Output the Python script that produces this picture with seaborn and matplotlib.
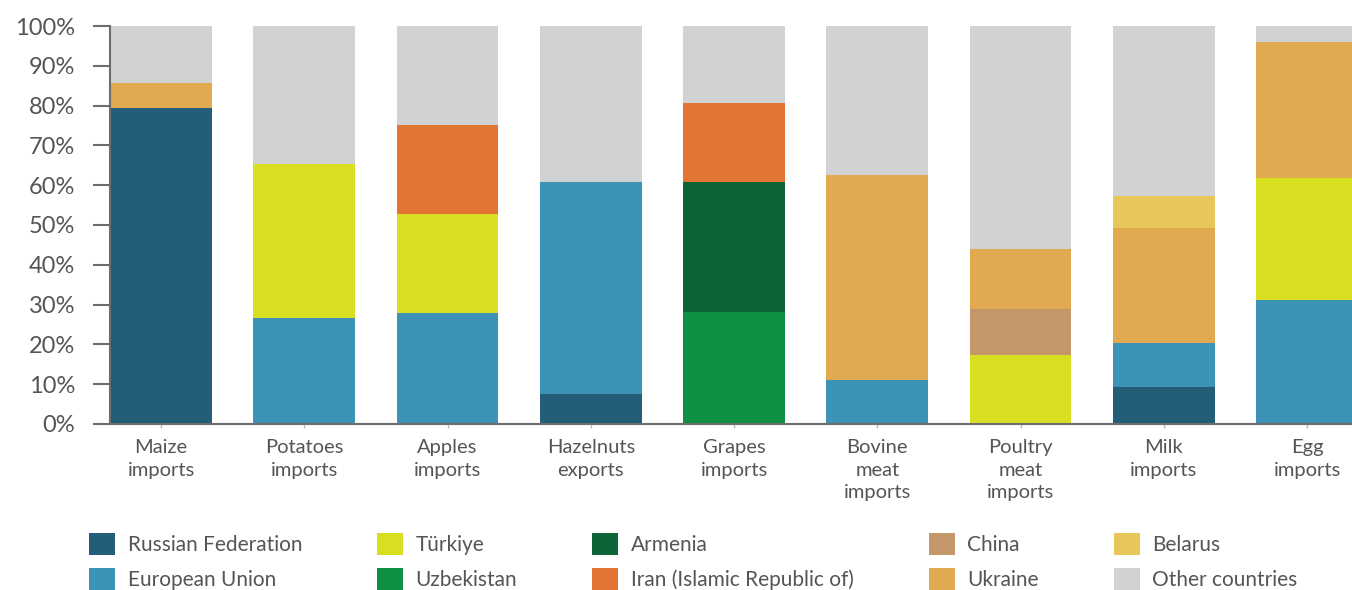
import matplotlib
matplotlib.use("Agg")
import matplotlib.pyplot as plt
import matplotlib.patches as mpatches
from matplotlib.ticker import PercentFormatter
import seaborn as sns
import pandas as pd

categories = ["Maize\nimports", "Potatoes\nimports", "Apples\nimports", "Hazelnuts\nexports",
              "Grapes\nimports", "Bovine\nmeat\nimports", "Poultry\nmeat\nimports",
              "Milk\nimports", "Egg\nimports"]

# Shares (%) by partner, in stacking order from the bottom up
russia     = [79.4, 0.0,  0.0,  7.5,  0.0,  0.0,  0.0,  9.3,  0.0]
eu         = [0.0,  26.6, 27.9, 53.3, 0.0,  11.1, 0.0,  11.1, 31.2]
uzbekistan = [0.0,  0.0,  0.0,  0.0,  28.1, 0.0,  0.0,  0.0,  0.0]
armenia    = [0.0,  0.0,  0.0,  0.0,  32.7, 0.0,  0.0,  0.0,  0.0]
turkiye    = [0.0,  38.7, 24.9, 0.0,  0.0,  0.0,  17.3, 0.0,  30.6]
china      = [0.0,  0.0,  0.0,  0.0,  0.0,  0.0,  11.6, 0.0,  0.0]
ukraine    = [6.3,  0.0,  0.0,  0.0,  0.0,  51.5, 15.1, 28.8, 34.2]
iran       = [0.0,  0.0,  22.3, 0.0,  19.9, 0.0,  0.0,  0.0,  0.0]
belarus    = [0.0,  0.0,  0.0,  0.0,  0.0,  0.0,  0.0,  8.1,  0.0]
other      = [14.3, 34.7, 24.9, 39.2, 19.3, 37.4, 56.0, 42.7, 4.0]

stack = [
    ("Russian Federation", russia, "#235D77"),
    ("European Union", eu, "#3D93B6"),
    ("Uzbekistan", uzbekistan, "#0E9144"),
    ("Armenia", armenia, "#0D6537"),
    ("Türkiye", turkiye, "#D7DF20"),
    ("China", china, "#C3976A"),
    ("Ukraine", ukraine, "#E2AA50"),
    ("Iran (Islamic Republic of)", iran, "#E27535"),
    ("Belarus", belarus, "#E8C75A"),
    ("Other countries", other, "#D1D2D4"),
]
legend_order = ["Russian Federation", "European Union", "Türkiye", "Uzbekistan",
                "Armenia", "Iran (Islamic Republic of)", "China", "Ukraine",
                "Belarus", "Other countries"]

sns.set_theme(style="white")
plt.rcParams["font.family"] = ["Lato", "DejaVu Sans"]
text_color = "#555555"
axis_color = "#6d6d6d"

fig = plt.figure(figsize=(13.52, 5.90), dpi=100)
ax = fig.add_axes([0.0814, 0.2814, 0.9186, 0.6745])

# cumulative tops of each layer
cum = []
running = [0.0] * len(categories)
for name, vals, color in stack:
    running = [r + v for r, v in zip(running, vals)]
    cum.append((name, list(running), color))

# draw from the tallest layer down so lower segments sit on top
for name, tops, color in reversed(cum):
    df = pd.DataFrame({"cat": categories, "top": tops})
    sns.barplot(data=df, x="cat", y="top", color=color, saturation=1,
                width=0.71, linewidth=0, ax=ax, order=categories)

ax.set_xlim(-0.356, 8.314)
ax.set_ylim(0, 100)
ax.set_yticks(range(0, 101, 10))
ax.yaxis.set_major_formatter(PercentFormatter(decimals=0))
ax.set_xlabel("")
ax.set_ylabel("")

for side in ["top", "right"]:
    ax.spines[side].set_visible(False)
for side in ["left", "bottom"]:
    ax.spines[side].set_color(axis_color)
    ax.spines[side].set_linewidth(1.5)

ax.tick_params(axis="y", left=True, length=12, width=1.5, color=axis_color,
               labelsize=17, labelcolor=text_color, pad=13)
ax.tick_params(axis="x", bottom=True, length=3, width=1, color="#bbbbbb",
               labelsize=14.5, labelcolor=text_color, pad=8)
for lbl in ax.get_xticklabels():
    lbl.set_linespacing(1.4)

colors = {name: color for name, _, color in stack}
handles = [mpatches.Patch(facecolor=colors[n], edgecolor="none", label=n) for n in legend_order]
fig.legend(handles=handles, loc="lower left", bbox_to_anchor=(0.052, -0.031), ncol=5,
           frameon=False, fontsize=15, labelcolor=text_color, handlelength=1.25,
           handleheight=1.25, handletextpad=0.6, columnspacing=3.6, labelspacing=0.62)

fig.savefig("out.png", dpi=100)
